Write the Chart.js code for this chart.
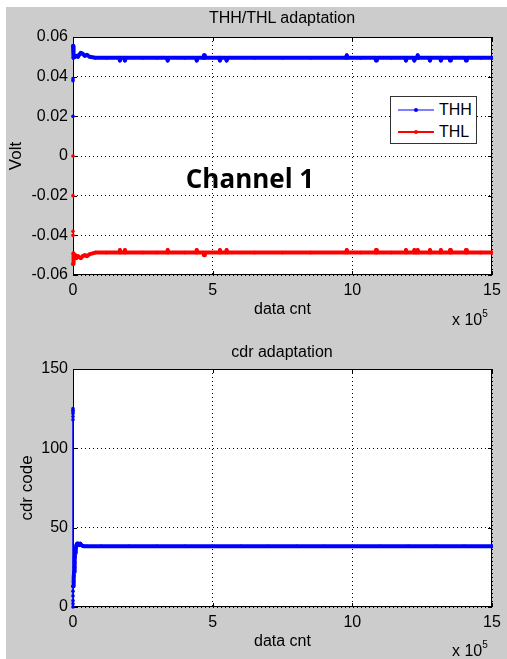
<!DOCTYPE html>
<html>
<head>
<meta charset="utf-8">
<script src="https://cdn.jsdelivr.net/npm/chart.js@4/dist/chart.umd.min.js"></script>
<style>
  html, body { margin: 0; padding: 0; background: #ffffff; }
  #fig { position: relative; width: 507px; height: 659px; overflow: hidden; background: #ffffff; }
  #bg { position: absolute; left: 6px; top: 7px; width: 501px; height: 652px; background: #cccccc; }
  canvas { position: absolute; left: 0; }
  .txt { position: absolute; font-family: "Liberation Sans", Arial, sans-serif; color: #000; white-space: nowrap; line-height: 1; }
  .title { font-size: 16px; transform: translate(-50%, -50%); }
  .mult { font-size: 16px; }
  .mult sup { font-size: 10px; position: relative; top: -2px; }
  #ch { font-family: "Open Sans", sans-serif; font-weight: 700; font-size: 26px; transform: translate(-50%, -50%); }
  #legend { position: absolute; left: 390px; top: 96px; width: 85px; height: 46px; background: #fff; border: 1px solid #333; }
  .item { position: absolute; left: 0; height: 22px; width: 85px; }
  .swatch { position: absolute; left: 7px; top: 10px; width: 36px; height: 2px; }
  .dot { position: absolute; left: 23px; top: 9px; width: 4px; height: 4px; border-radius: 50%; }
  .lbl { position: absolute; left: 48px; top: 3px; font-family: "Liberation Sans", Arial, sans-serif; font-size: 16px; line-height: 1; }
</style>
</head>
<body>
<div id="fig">
  <div id="bg"></div>
  <canvas id="c1" width="507" height="330" style="top:0px"></canvas>
  <canvas id="c2" width="507" height="329" style="top:330px"></canvas>
  <div class="txt title" style="left:282px; top:18px;">THH/THL adaptation</div>
  <div class="txt title" style="left:282px; top:352px;">cdr adaptation</div>
  <div class="txt mult" style="left:452px; top:311px;">x 10<sup>5</sup></div>
  <div class="txt mult" style="left:452px; top:642px;">x 10<sup>5</sup></div>
  <div class="txt" id="ch" style="left:250px; top:178px;">Channel 1</div>
  <div id="legend"></div>
</div>
<script>
// x values are in units of 10^5 samples ("data cnt")
const xTicks = [0, 5, 10, 15];
const xTickLabels = ['0', '5', '10', '15'];

const voltTicks = [-0.06, -0.04, -0.02, 0, 0.02, 0.04, 0.06];
const voltTickLabels = ['-0.06', '-0.04', '-0.02', '0', '0.02', '0.04', '0.06'];

const cdrTicks = [0, 50, 100, 150];
const cdrTickLabels = ['0', '50', '100', '150'];

// THH threshold (Volt)
const thhX = [0, 0, 0, 0, 0.01, 0.03, 0.08, 0.12, 0.18, 0.22, 0.28, 0.35, 0.42, 0.5, 0.6, 0.8, 1.2,
  1.65, 1.68, 1.71, 1.83, 1.86, 1.89, 2.5, 3.0, 3.36, 3.39, 3.42, 4.0, 4.4, 4.43, 4.46,
  4.66, 4.69, 4.72, 5.23, 5.26, 5.29, 5.47, 5.5, 5.53, 6.5, 7.5, 8.5, 9.77, 9.8, 9.83,
  10.3, 10.82, 10.85, 10.88, 11.4, 11.89, 11.92, 11.95, 12.19, 12.22, 12.25, 12.31, 12.34, 12.37,
  12.75, 12.78, 12.81, 13.14, 13.17, 13.2, 13.47, 13.5, 13.53, 14.04, 14.07, 14.1, 14.6, 15];
const thhY = [0.020, 0.038, 0.039, 0.0555, 0.0495, 0.0505, 0.0500, 0.0505, 0.0500, 0.0510, 0.0520, 0.0515, 0.0505, 0.0510, 0.0500, 0.0495, 0.0495,
  0.0495, 0.0481, 0.0495, 0.0495, 0.0481, 0.0495, 0.0495, 0.0495, 0.0495, 0.0481, 0.0495, 0.0495, 0.0495, 0.0481, 0.0495,
  0.0495, 0.0508, 0.0495, 0.0495, 0.0481, 0.0495, 0.0495, 0.0481, 0.0495, 0.0495, 0.0495, 0.0495, 0.0495, 0.0508, 0.0495,
  0.0495, 0.0495, 0.0481, 0.0495, 0.0495, 0.0495, 0.0481, 0.0495, 0.0495, 0.0481, 0.0495, 0.0495, 0.0508, 0.0495,
  0.0495, 0.0481, 0.0495, 0.0495, 0.0481, 0.0495, 0.0495, 0.0481, 0.0495, 0.0495, 0.0481, 0.0495, 0.0495, 0.0495];

// THL threshold (Volt)
const thlX = [0, 0, 0, 0, 0, 0.01, 0.03, 0.08, 0.12, 0.18, 0.22, 0.28, 0.35, 0.42, 0.5, 0.6, 0.8, 1.2,
  1.65, 1.68, 1.71, 1.83, 1.86, 1.89, 2.5, 3.0, 3.36, 3.39, 3.42, 4.0, 4.4, 4.43, 4.46,
  4.66, 4.69, 4.72, 5.23, 5.26, 5.29, 5.47, 5.5, 5.53, 6.5, 7.5, 8.5, 9.77, 9.8, 9.83,
  10.3, 10.82, 10.85, 10.88, 11.4, 11.89, 11.92, 11.95, 12.19, 12.22, 12.25, 12.31, 12.34, 12.37,
  12.75, 12.78, 12.81, 13.14, 13.17, 13.2, 13.47, 13.5, 13.53, 14.04, 14.07, 14.1, 14.6, 15];
const thlY = [0, -0.020, -0.038, -0.040, -0.0545, -0.0490, -0.0505, -0.0500, -0.0515, -0.0505, -0.0510, -0.0515, -0.0505, -0.0500, -0.0505, -0.0495, -0.0487, -0.0487,
  -0.0487, -0.0474, -0.0487, -0.0487, -0.0474, -0.0487, -0.0487, -0.0487, -0.0487, -0.0474, -0.0487, -0.0487, -0.0487, -0.0474, -0.0487,
  -0.0487, -0.0500, -0.0487, -0.0487, -0.0474, -0.0487, -0.0487, -0.0474, -0.0487, -0.0487, -0.0487, -0.0487, -0.0487, -0.0474, -0.0487,
  -0.0487, -0.0487, -0.0474, -0.0487, -0.0487, -0.0487, -0.0474, -0.0487, -0.0487, -0.0474, -0.0487, -0.0487, -0.0474, -0.0487,
  -0.0487, -0.0474, -0.0487, -0.0487, -0.0474, -0.0487, -0.0487, -0.0474, -0.0487, -0.0487, -0.0474, -0.0487, -0.0487, -0.0487];

// CDR code
const cdrX = [0, 0, 0, 0, 0, 0, 0, 0, 0, 0, 0, 0, 0.02, 0.03, 0.04, 0.05, 0.06, 0.07, 0.08, 0.1, 0.12, 0.15,
  0.18, 0.22, 0.26, 0.3, 0.35, 0.4, 0.5, 1, 2, 3, 4, 5, 6, 7, 8, 9, 10, 11, 12, 13, 14, 15];
const cdrY = [124, 125, 123, 122, 120, 118, 0, 2, 4, 7, 10, 13, 16, 19, 22, 25, 28, 31, 34, 37, 39, 40,
  40, 39, 40, 39, 38.5, 38.3, 38.3, 38.3, 38.3, 38.3, 38.3, 38.3, 38.3, 38.3, 38.3, 38.3, 38.3, 38.3, 38.3, 38.3, 38.3, 38.3];

const BLUE = '#0000ff';
const RED = '#ff0000';
const FONT = "'Liberation Sans', Arial, sans-serif";

const toPoints = (xs, ys) => xs.map((x, i) => ({ x, y: ys[i] }));

// white plot box with a black frame and inward tick marks on all sides
const framePlugin = {
  id: 'frame',
  beforeDraw(chart) {
    const { ctx, chartArea: a } = chart;
    ctx.save();
    ctx.fillStyle = '#ffffff';
    ctx.fillRect(a.left, a.top, a.right - a.left, a.bottom - a.top);
    ctx.restore();
  },
  beforeDatasetsDraw(chart) {
    const { ctx, chartArea: a, scales: { x, y } } = chart;
    ctx.save();
    ctx.strokeStyle = '#000';
    ctx.lineWidth = 1;
    ctx.strokeRect(Math.round(a.left) + 0.5, Math.round(a.top) + 0.5,
      Math.round(a.right - a.left) - 1, Math.round(a.bottom - a.top) - 1);
    const len = 4;
    ctx.beginPath();
    x.ticks.forEach(t => {
      const px = Math.round(x.getPixelForValue(t.value)) + 0.5;
      ctx.moveTo(px, a.bottom); ctx.lineTo(px, a.bottom - len);
      ctx.moveTo(px, a.top); ctx.lineTo(px, a.top + len);
    });
    y.ticks.forEach(t => {
      const py = Math.round(y.getPixelForValue(t.value)) + 0.5;
      ctx.moveTo(a.left, py); ctx.lineTo(a.left + len, py);
      ctx.moveTo(a.right, py); ctx.lineTo(a.right - len, py);
    });
    ctx.stroke();
    ctx.restore();
  }
};

function xScale() {
  return {
    type: 'linear', min: 0, max: 15,
    afterBuildTicks: s => { s.ticks = xTicks.map(v => ({ value: v })); },
    afterFit: s => { s.height = 46; },
    ticks: { color: '#000', font: { family: FONT, size: 16 }, padding: 6, maxRotation: 0,
      callback: (v) => xTickLabels[xTicks.indexOf(v)] },
    grid: { color: '#000', lineWidth: 1, drawTicks: false },
    border: { display: false, dash: [1, 3] },
    title: { display: true, text: 'data cnt', color: '#000', font: { family: FONT, size: 16 }, padding: { top: 0, bottom: 2 } }
  };
}

function yScale(min, max, ticks, labels, title, titlePad) {
  return {
    type: 'linear', min, max,
    afterBuildTicks: s => { s.ticks = ticks.map(v => ({ value: v })); },
    afterFit: s => { s.width = 73; },
    ticks: { color: '#000', font: { family: FONT, size: 16 }, padding: 5,
      callback: (v) => labels[ticks.findIndex(t => Math.abs(t - v) < 1e-9)] },
    grid: { color: '#000', lineWidth: 1, drawTicks: false },
    border: { display: false, dash: [1, 3] },
    title: { display: true, text: title, color: '#000', font: { family: FONT, size: 17 }, padding: { top: titlePad, bottom: 0 } }
  };
}

const atOrigin = (c) => c.p0.parsed.x === 0 && c.p1.parsed.x === 0;
// start-up threshold samples logged at x = 0 show as bare markers
const hideAtOrigin = (c) => atOrigin(c) ? 'rgba(0,0,0,0)' : undefined;
// the start-up code sweep at x = 0 is a thin trace along the axis
const thinAtOrigin = (c) => atOrigin(c) ? 1.5 : undefined;

const lineStyle = (color, segment) => ({
  borderColor: color, backgroundColor: color, pointBackgroundColor: color, pointBorderColor: color,
  borderWidth: 4, borderJoinStyle: 'round', borderCapStyle: 'round',
  pointRadius: 1.8, pointBorderWidth: 0, showLine: true, tension: 0, fill: false,
  clip: { left: 3, top: 2, right: 1, bottom: 2 },
  segment
});

const chart1 = new Chart(document.getElementById('c1'), {
  type: 'scatter',
  data: {
    datasets: [
      { label: 'THH', data: toPoints(thhX, thhY), ...lineStyle(BLUE, { borderColor: hideAtOrigin }) },
      { label: 'THL', data: toPoints(thlX, thlY), ...lineStyle(RED, { borderColor: hideAtOrigin }) }
    ]
  },
  options: {
    responsive: false, animation: false, events: [],
    layout: { padding: { left: 0, top: 37, right: 15, bottom: 9 } },
    plugins: { legend: { display: false }, title: { display: false }, tooltip: { enabled: false } },
    scales: { x: xScale(), y: yScale(-0.06, 0.06, voltTicks, voltTickLabels, 'Volt', 6) }
  },
  plugins: [framePlugin]
});

const chart2 = new Chart(document.getElementById('c2'), {
  type: 'scatter',
  data: {
    datasets: [
      { label: 'cdr', data: toPoints(cdrX, cdrY), ...lineStyle(BLUE, { borderWidth: thinAtOrigin }) }
    ]
  },
  options: {
    responsive: false, animation: false, events: [],
    layout: { padding: { left: 0, top: 39, right: 15, bottom: 6 } },
    plugins: { legend: { display: false }, title: { display: false }, tooltip: { enabled: false } },
    scales: { x: xScale(), y: yScale(0, 150, cdrTicks, cdrTickLabels, 'cdr code', 17) }
  },
  plugins: [framePlugin]
});

// legend box for the THH / THL series, built from the chart's datasets
const legendColors = { THH: '#7f7fff', THL: RED };
const legend = document.getElementById('legend');
chart1.data.datasets.forEach((ds, i) => {
  const item = document.createElement('div');
  item.className = 'item';
  item.style.top = (2 + i * 22) + 'px';
  item.innerHTML = '<div class="swatch" style="background:' + legendColors[ds.label] + '"></div>' +
    '<div class="dot" style="background:' + ds.borderColor + '"></div>' +
    '<div class="lbl">' + ds.label + '</div>';
  legend.appendChild(item);
});
</script>
</body>
</html>
